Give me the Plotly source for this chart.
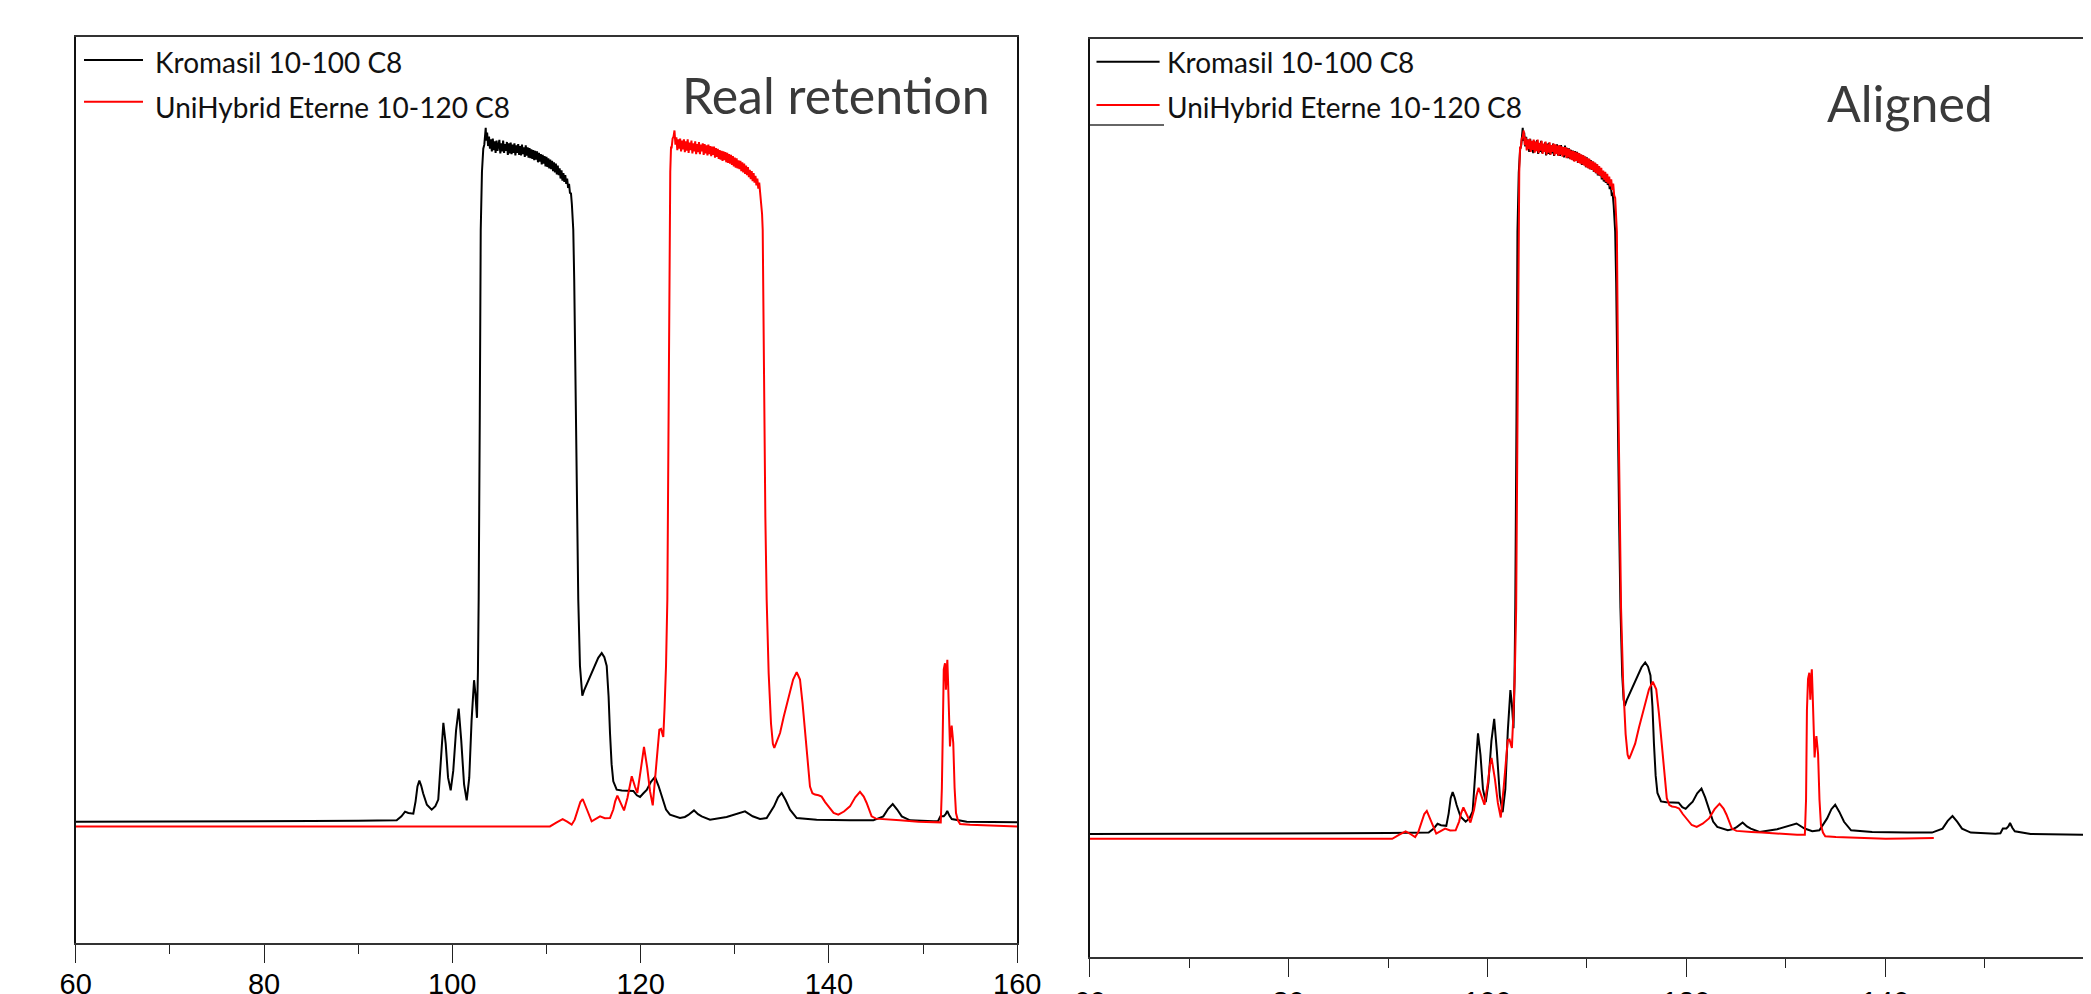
import plotly.graph_objects as go

# ---------------- data (retention time in min, signal in a.u.) ----------------
kromasil_t = [60, 75, 85, 90, 93, 94.09, 94.6, 94.98, 95.33, 95.86, 96.1, 96.3, 96.5, 96.7, 96.9, 97.3, 97.81,
              98.2, 98.51, 98.8, 99.05, 99.3, 99.55, 99.83, 100.1, 100.4, 100.68, 100.95, 101.25, 101.53,
              101.8, 102.05, 102.31, 102.45, 102.62, 102.72, 102.80, 102.92, 103.02, 103.15, 103.29,
              103.40, 103.50, 103.55, 103.60, 103.70, 103.80, 103.90, 104.00, 104.10, 104.20, 104.30, 104.40,
              104.50, 104.60, 104.70, 104.80, 104.90, 105.00, 105.10, 105.20, 105.30, 105.40, 105.50, 105.60,
              105.70, 105.80, 105.90, 106.00, 106.10, 106.20, 106.30, 106.40, 106.50, 106.60, 106.70, 106.80,
              106.90, 107.00, 107.10, 107.20, 107.30, 107.40, 107.50, 107.60, 107.70, 107.80, 107.90, 108.00,
              108.10, 108.20, 108.30, 108.40, 108.50, 108.60, 108.70, 108.80, 108.90, 109.00, 109.10, 109.20,
              109.30, 109.40, 109.50, 109.60, 109.70, 109.80, 109.90, 110.00, 110.10, 110.20, 110.30, 110.40,
              110.50, 110.60, 110.70, 110.80, 110.90, 111.00, 111.10, 111.20, 111.30, 111.40, 111.50, 111.60,
              111.70, 111.80, 111.90, 112.00, 112.10, 112.20, 112.30, 112.40, 112.50, 112.60, 112.70, 112.80,
              112.85, 112.95, 113.10, 113.25, 113.38, 113.56, 113.70, 113.81, 114.00, 114.50, 114.98, 115.50,
              115.87, 116.15, 116.40, 116.60, 116.75, 116.92, 117.10, 117.46, 118.00, 118.88, 119.23, 119.60,
              119.94, 120.30, 120.65, 121.10, 121.53, 121.90, 122.24, 122.70, 123.12, 124.18, 124.70, 125.07,
              125.67, 126.10, 126.49, 127.37, 129.14, 130.20, 131.09, 131.90, 132.68, 133.39, 134.17, 134.60,
              134.98, 135.40, 135.87, 136.58, 138.70, 142.24, 144.72, 145.78, 146.30, 146.78, 147.25, 147.74,
              148.62, 151.10, 151.60, 151.85, 152.20, 152.40, 152.57, 152.80, 153.05, 154.64, 160]
kromasil_s = [0.0, 0.0, 0.1, 0.15, 0.2, 0.2, 0.8, 1.48, 1.28, 1.18, 3.0, 5.2, 6.07, 5.3, 4.2, 2.5, 1.78,
              2.3, 3.26, 9.0, 14.6, 11.5, 6.5, 4.64, 7.5, 13.5, 16.7, 12.0, 5.5, 3.16,
              6.5, 15.0, 20.9, 19.0, 15.34, 22.0, 32.8, 60.0, 87.4, 96.0, 99.4,
              100.0, 101.5, 102.5, 100.6, 101.8, 99.8, 101.2, 99.4, 100.8, 99.0, 100.9, 99.2,
              100.5, 98.8, 100.6, 99.1, 100.2, 100.7, 98.7, 100.2, 99.0, 100.6, 98.8, 100.1,
              99.1, 100.4, 98.5, 100.2, 98.7, 100.3, 98.6, 100.0, 98.8, 100.2, 98.4, 99.9,
              98.8, 100.1, 98.5, 99.8, 98.4, 100.0, 98.6, 99.6, 98.2, 99.9, 98.4, 99.6,
              98.1, 99.5, 98.0, 99.3, 97.9, 99.2, 97.7, 99.1, 97.8, 99.0, 97.4, 98.8,
              97.5, 98.6, 97.1, 98.5, 97.2, 98.3, 96.8, 98.2, 96.7, 98.0, 96.5, 97.8,
              96.4, 97.6, 96.1, 97.4, 95.9, 97.2, 95.6, 96.9, 95.5, 96.5, 95.0, 96.2,
              94.7, 95.8, 94.5, 95.5, 94.2, 95.0, 93.6, 94.2, 92.8, 92.9, 91.2, 89.4,
              87.4, 80.0, 60.0, 45.0, 32.8, 23.0, 19.5, 18.6, 19.4, 21.0, 22.5, 24.2,
              24.9, 24.3, 23.0, 18.5, 13.1, 8.5, 5.96, 4.73, 4.6, 4.6, 4.55, 3.9,
              3.65, 4.2, 4.7, 5.9, 6.6, 5.3, 3.74, 1.8, 1.03, 0.54, 0.7, 1.0,
              1.67, 1.1, 0.78, 0.3, 0.69, 1.1, 1.52, 0.8, 0.39, 0.54, 2.26, 3.6,
              4.24, 3.2, 1.77, 0.54, 0.3, 0.22, 0.2, 0.78, 1.9, 2.6, 1.8, 0.78,
              0.2, 0.05, 0.1, 0.8, 0.8, 1.1, 1.6, 0.9, 0.4, 0.0, -0.1]

unihybrid_t = [60, 80, 100, 110.37, 111.09, 111.40, 111.72, 112.20, 112.68, 113.00, 113.38, 113.60, 113.85,
               114.10, 114.30, 114.80, 115.20, 115.69, 116.20, 116.75, 117.10, 117.30, 117.53, 117.90, 118.24,
               118.60, 118.85, 119.06, 119.40, 119.65, 120.00, 120.20, 120.36, 120.70, 121.00, 121.29, 121.60,
               121.99, 122.17, 122.30, 122.41, 122.55, 122.70, 122.84, 122.95, 123.05, 123.15, 123.23,
               123.30, 123.40, 123.50, 123.60, 123.70, 123.80, 123.90, 124.00, 124.10, 124.20, 124.30, 124.40,
               124.50, 124.60, 124.70, 124.80, 124.90, 125.00, 125.10, 125.20, 125.30, 125.40, 125.50, 125.60,
               125.70, 125.80, 125.90, 126.00, 126.10, 126.20, 126.30, 126.40, 126.50, 126.60, 126.70, 126.80,
               126.90, 127.00, 127.10, 127.20, 127.30, 127.40, 127.50, 127.60, 127.70, 127.80, 127.90, 128.00,
               128.10, 128.20, 128.30, 128.40, 128.50, 128.60, 128.70, 128.80, 128.90, 129.00, 129.10, 129.20,
               129.30, 129.40, 129.50, 129.60, 129.70, 129.80, 129.90, 130.00, 130.10, 130.20, 130.30, 130.40,
               130.50, 130.60, 130.70, 130.80, 130.90, 131.00, 131.10, 131.20, 131.30, 131.40, 131.50, 131.60,
               131.70, 131.80, 131.90, 132.00, 132.10, 132.20, 132.30, 132.40, 132.50, 132.60, 132.70, 132.80,
               132.90, 132.97, 133.10, 133.25, 133.39, 133.60, 133.85, 134.05, 134.20, 134.40, 134.81, 135.20,
               135.69, 136.20, 136.58, 136.93, 137.20, 137.46, 137.75, 137.99, 138.25, 138.52, 138.90, 139.23,
               139.60, 139.94, 140.50, 141.00, 141.60, 142.24, 142.80, 143.30, 143.70, 144.00, 144.30, 144.54,
               145.00, 145.42, 146.50, 147.55, 149.50, 151.10, 151.88, 152.00, 152.09, 152.20, 152.33, 152.43,
               152.50, 152.58, 152.65, 152.72, 152.86, 152.95, 153.04, 153.12, 153.21, 153.35, 153.50, 153.70,
               153.93, 155.00, 156.40, 158.00, 160.00, 162.00, 164.85]
unihybrid_s = [-0.7, -0.7, -0.7, -0.7, -0.1, 0.1, 0.39, 0.0, -0.44, 0.3, 1.77, 2.9, 3.35,
               2.6, 1.8, 0.05, 0.4, 0.78, 0.5, 0.54, 1.8, 3.0, 3.85, 2.8, 1.67,
               3.5, 5.6, 6.7, 5.2, 4.24, 7.5, 10.0, 11.04, 8.0, 4.5, 2.4, 7.0,
               13.6, 13.7, 13.0, 12.5, 17.0, 23.0, 32.8, 60.0, 87.6, 96.0, 99.6,
               99.6, 100.9, 101.2, 102.1, 100.0, 101.1, 99.2, 100.8, 99.4, 100.9, 99.0, 100.6,
               99.3, 100.8, 98.9, 100.5, 99.1, 100.8, 98.8, 100.3, 99.2, 100.6, 98.7, 100.2,
               99.0, 100.5, 98.6, 100.1, 98.9, 100.4, 98.6, 100.0, 99.0, 100.2, 98.5, 100.1,
               98.7, 99.9, 98.4, 100.0, 98.6, 99.8, 98.3, 99.7, 98.5, 99.7, 98.1, 99.5,
               98.2, 99.4, 97.9, 99.2, 97.8, 99.1, 97.6, 99.0, 97.7, 98.9, 97.4, 98.8,
               97.3, 98.6, 97.2, 98.5, 97.0, 98.3, 96.8, 98.1, 96.6, 98.0, 96.5, 97.7,
               96.4, 97.6, 96.1, 97.4, 95.9, 97.2, 95.7, 96.9, 95.5, 96.7, 95.2, 96.3,
               94.9, 96.1, 94.6, 95.8, 94.4, 95.4, 94.0, 95.0, 93.5, 94.4, 92.7, 92.3,
               89.8, 87.4, 65.0, 45.0, 32.8, 22.0, 14.5, 11.5, 10.9, 11.6, 13.1, 15.5,
               18.0, 21.0, 22.1, 21.0, 17.5, 13.1, 8.5, 5.2, 4.2, 4.0, 3.9, 3.7,
               2.9, 2.26, 1.3, 1.03, 1.5, 2.26, 3.6, 4.4, 3.7, 2.8, 1.5, 0.78,
               0.45, 0.39, 0.3, 0.2, 0.0, -0.1, -0.1, 5.0, 18.0, 22.5, 23.4, 19.5,
               22.0, 23.9, 21.0, 18.0, 11.1, 13.0, 14.2, 13.0, 11.6, 5.0, 1.28, 0.2,
               -0.33, -0.45, -0.53, -0.6, -0.7, -0.65, -0.6]

align_shift = 19.95          # min, UniHybrid trace moved left in the "Aligned" panel
series_names = ["Kromasil 10-100 C8", "UniHybrid Eterne 10-120 C8"]
panel_titles = ["Real retention", "Aligned"]
x_ticks = [60, 80, 100, 120, 140, 160]

# ---------------- figure ----------------
# the page body has an 8 px margin, so the figure is 8 px smaller and positions are shifted
OFF = 8
W, H = 2091 - OFF, 994 - OFF
def px(x):
    return (x - OFF) / W
def py(y):
    return 1 - (y - OFF) / H

fig = go.Figure()
fig.add_trace(go.Scatter(x=kromasil_t, y=kromasil_s, mode="lines", name=series_names[0],
                         line=dict(color="#000000", width=2), xaxis="x", yaxis="y", showlegend=False))
fig.add_trace(go.Scatter(x=unihybrid_t, y=unihybrid_s, mode="lines", name=series_names[1],
                         line=dict(color="#ff0000", width=2), xaxis="x", yaxis="y", showlegend=False))
fig.add_trace(go.Scatter(x=kromasil_t, y=kromasil_s, mode="lines", name=series_names[0],
                         line=dict(color="#000000", width=2), xaxis="x2", yaxis="y2", showlegend=False))
fig.add_trace(go.Scatter(x=[t - align_shift for t in unihybrid_t], y=unihybrid_s, mode="lines",
                         name=series_names[1], line=dict(color="#ff0000", width=2),
                         xaxis="x2", yaxis="y2", showlegend=False))

xcommon = dict(range=[60, 160], tickvals=x_ticks, ticks="outside", ticklen=18, tickwidth=1.2,
               tickcolor="#222", showline=True, linecolor="#333", linewidth=2, mirror=True,
               showgrid=False, zeroline=False, automargin=False,
               tickfont=dict(family="Liberation Sans, Arial", size=29, color="#000"),
               minor=dict(dtick=10, tick0=60, ticks="outside", ticklen=9, tickwidth=1.2, tickcolor="#222"))
ycommon = dict(showticklabels=False, ticks="", showline=True, linecolor="#111", linewidth=1.5,
               mirror=True, showgrid=False, zeroline=False, automargin=False)

fig.update_layout(
    width=W, height=H, margin=dict(l=0, r=0, t=0, b=0, autoexpand=False),
    paper_bgcolor="white", plot_bgcolor="white",
    xaxis=dict(domain=[px(75.7), px(1017.2)], anchor="y", ticklabelstandoff=-4, **xcommon),
    yaxis=dict(domain=[py(943), py(36.7)], anchor="x", range=[-17.92, 115.95], **ycommon),
    xaxis2=dict(domain=[px(1089.8), px(2083.9)], anchor="y2", **xcommon),
    yaxis2=dict(domain=[py(956.7), py(39.3)], anchor="x2", range=[-17.81, 115.34], **ycommon),
)

legend_font = dict(family="Lato, Open Sans", size=28, color="#111")
shapes = []
annotations = []
for (x0, x1, xt, ys, yt, col, name) in [
        (84, 143, 152.7, 60, 62, "#000000", series_names[0]),
        (84, 143, 152.7, 101.7, 107, "#ff0000", series_names[1]),
        (1096.5, 1159.6, 1165, 61.7, 61.7, "#000000", series_names[0]),
        (1096.5, 1159.6, 1165, 105, 106.7, "#ff0000", series_names[1])]:
    shapes.append(dict(type="line", xref="paper", yref="paper", x0=px(x0), x1=px(x1), y0=py(ys), y1=py(ys),
                       line=dict(color=col, width=2)))
    annotations.append(dict(xref="paper", yref="paper", x=px(xt), y=py(yt), xanchor="left", yanchor="middle",
                            text=name, showarrow=False, font=legend_font))
shapes.append(dict(type="line", xref="paper", yref="paper", x0=px(1090), x1=px(1164), y0=py(125), y1=py(125),
                   line=dict(color="#666", width=2)))

title_font = dict(family="Lato, Open Sans", size=50, color="#3a3a3a")
annotations.append(dict(xref="paper", yref="paper", x=px(836), y=py(95), xanchor="center", yanchor="middle",
                        text=panel_titles[0], showarrow=False, font=title_font))
annotations.append(dict(xref="paper", yref="paper", x=px(1909.6), y=py(103), xanchor="center", yanchor="middle",
                        text=panel_titles[1], showarrow=False, font=title_font))
fig.update_layout(shapes=shapes, annotations=annotations)

fig.write_html("out.html")
